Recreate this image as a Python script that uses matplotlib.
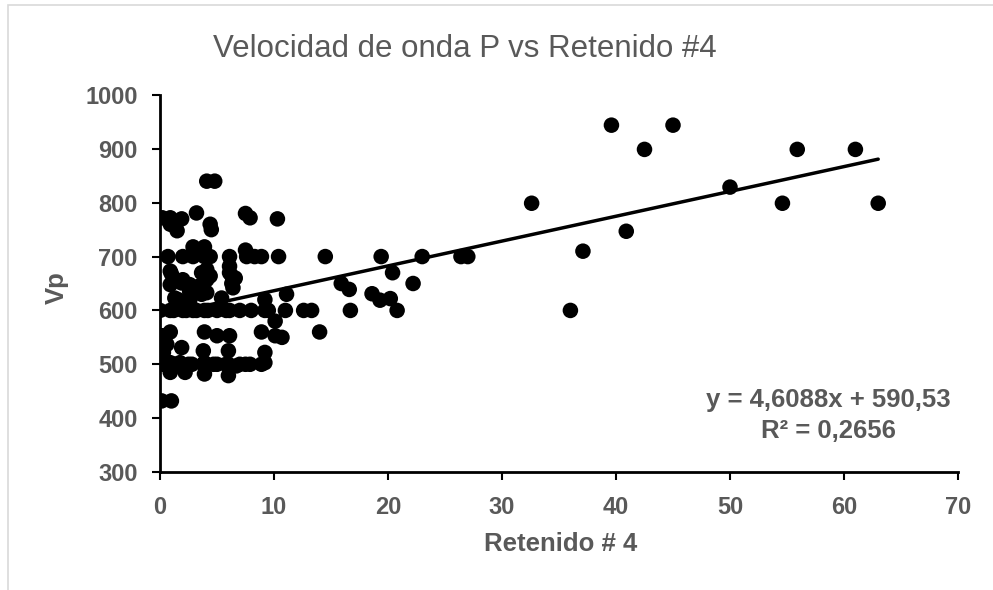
import matplotlib
matplotlib.use('Agg')
import matplotlib.pyplot as plt
from matplotlib.patches import Rectangle
import numpy as np

plt.rcParams['font.family'] = ['Liberation Sans', 'DejaVu Sans']

# Data #########################################################################
retenido = [4.1, 4.8,
            3.2, 7.5, 7.9,
            0.2, 0.9, 1.9, 10.3,
            0.9, 1.5, 4.4, 4.5,
            2.9, 3.9, 7.5,
            0.7, 2.0, 2.9, 3.9, 4.4, 6.1, 7.6, 8.3, 8.9, 10.4, 14.5, 19.4,
            23.0, 26.4, 27.0,
            0.9, 1.0, 3.65, 4.1, 4.4, 6.1, 6.1, 6.3, 6.6, 20.4,
            1.9, 2.0, 2.6, 4.1, 6.3, 6.4, 0.9, 3.4, 15.9, 16.6, 22.2,
            2.6, 3.65, 4.1, 11.1, 18.6,
            1.3, 1.6, 1.9, 2.6, 5.4, 9.2, 19.3, 20.2,
            0.0, 0.9, 1.2, 2.0, 2.3, 2.9, 3.2, 3.9, 4.2, 5.0, 5.8, 6.1, 7.0,
            8.0, 9.2, 9.5, 11.0, 12.6, 13.3, 16.7, 20.8,
            10.1,
            0.9, 3.9, 8.9, 14.0,
            5.0, 6.1, 10.1, 10.7, 0.2,
            0.3, 0.6, 0.3, 1.9, 3.8, 6.0, 9.2,
            0.15, 0.3, 0.9, 1.3, 1.75, 2.5, 2.8, 3.8, 3.9, 4.7, 5.0, 5.8, 6.0,
            6.7, 7.0, 7.5, 7.9, 8.9, 9.2,
            0.9, 2.2, 3.9, 6.0,
            0.15, 1.0,
            32.6, 36.0, 37.1, 39.6, 40.9, 42.5, 45.0, 50.0, 54.6, 55.9, 61.0,
            63.0]
vp = [840, 840,
      781, 780, 772,
      772, 772, 770, 770,
      760, 748, 760, 750,
      718, 718, 712,
      700, 700, 700, 700, 700, 700, 700, 700, 700, 700, 700, 700,
      700, 700, 700,
      673, 668, 670, 676, 664, 682, 670, 664, 660, 670,
      651, 657, 648, 657, 650, 642, 648, 645, 650, 639, 650,
      636, 630, 633, 630, 631,
      623, 620, 614, 617, 623, 620, 619, 622,
      600, 600, 600, 600, 600, 600, 600, 600, 600, 600, 600, 600, 600,
      600, 600, 600, 600, 600, 600, 600, 600,
      580,
      560, 560, 560, 560,
      553, 553, 553, 550, 553,
      540, 537, 522, 531, 525, 525, 522,
      503, 500, 503, 500, 503, 500, 500, 500, 503, 500, 500, 500, 500,
      497, 500, 500, 500, 500, 503,
      485, 485, 482, 479,
      432, 432,
      799, 600, 710, 944, 747, 899, 944, 829, 799, 899, 899,
      799]

pendiente = 4.6088
intercepto = 590.53
ecuacion = 'y = 4,6088x + 590,53'
r2_texto = 'R² = 0,2656'

x_ticks = [0, 10, 20, 30, 40, 50, 60, 70]
y_ticks = [300, 400, 500, 600, 700, 800, 900, 1000]

gris = '#595959'

# Figure #######################################################################
fig = plt.figure(figsize=(9.93, 5.90), dpi=100)
ax = fig.add_axes([160/993, 1 - 472/590, 798/993, 377/590])

# light chart-area frame
fig.patches.append(Rectangle((8/993, -0.1), 1.2, 1 - 5/590 + 0.1,
                             transform=fig.transFigure, fill=False,
                             edgecolor='#d9d9d9', linewidth=1.2))

ax.scatter(retenido, vp, s=125, c='black', edgecolors='none', zorder=3)

xl = np.array([min(retenido), max(retenido)])
ax.plot(xl, pendiente * xl + intercepto, color='black', lw=2.5, zorder=4,
        solid_capstyle='round')

ax.set_xlim(0, 70)
ax.set_ylim(300, 1000)
ax.set_xticks(x_ticks)
ax.set_yticks(y_ticks)
for lab in ax.get_xticklabels() + ax.get_yticklabels():
    lab.set_fontweight('bold')
ax.tick_params(axis='both', colors=gris, labelsize=17, length=6, width=1.5,
               direction='out')
ax.tick_params(axis='both', color='black')
ax.tick_params(axis='y', pad=10)
ax.tick_params(axis='x', pad=11)

for s in ['top', 'right']:
    ax.spines[s].set_visible(False)
for s in ['left', 'bottom']:
    ax.spines[s].set_linewidth(2)
    ax.spines[s].set_color('black')

ax.set_xlabel('Retenido # 4', fontsize=18.5, fontweight='bold', color=gris)
ax.set_ylabel('Vp', fontsize=18.5, fontweight='bold', color=gris)
ax.xaxis.set_label_coords((561 - 160) / 798, -(544 - 472) / 377)
ax.yaxis.set_label_coords((57 - 160) / 798, (472 - 288) / 377)
ax.xaxis.label.set_va('center')
ax.yaxis.label.set_va('center')

fig.text(465/993, 1 - 49/590, 'Velocidad de onda P vs Retenido #4',
         fontsize=22.5, color=gris, ha='center', va='center')

fig.text(828/993, 1 - 400/590, ecuacion, fontsize=18.5, fontweight='bold',
         color=gris, ha='center', va='center')
fig.text(828/993, 1 - 431/590, r2_texto, fontsize=18.5, fontweight='bold',
         color=gris, ha='center', va='center')

fig.savefig('out.png', dpi=100)
